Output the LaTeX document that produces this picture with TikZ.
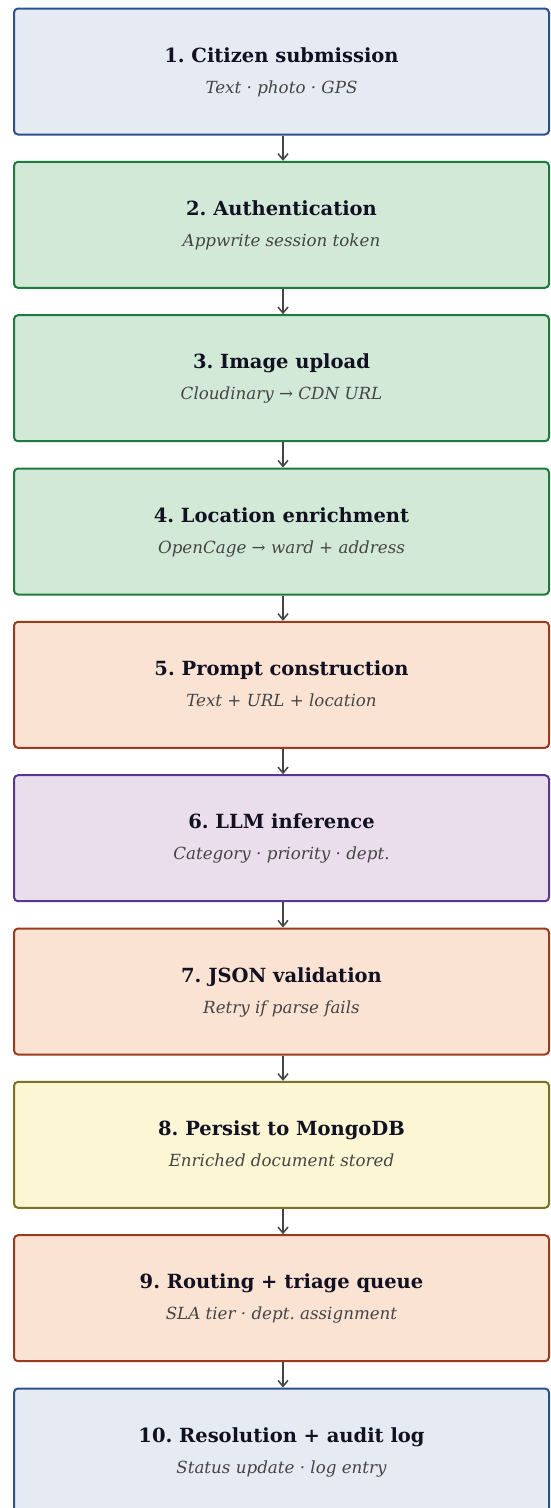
\documentclass[tikz,border=0pt]{standalone}
\usepackage{fontspec}
\setmainfont{DejaVu Serif}
\usetikzlibrary{arrows.meta}
\frenchspacing
\definecolor{bluefill}{HTML}{E6EBF3}\definecolor{blueline}{HTML}{2C5190}
\definecolor{greenfill}{HTML}{D3E9D8}\definecolor{greenline}{HTML}{1F7A3D}
\definecolor{orangefill}{HTML}{FBE3D4}\definecolor{orangeline}{HTML}{9B3A1C}
\definecolor{purplefill}{HTML}{EADEEC}\definecolor{purpleline}{HTML}{5B3592}
\definecolor{yellowfill}{HTML}{FCF6D4}\definecolor{yellowline}{HTML}{7D7124}
\definecolor{titlecol}{HTML}{111122}\definecolor{subcol}{HTML}{444444}
\definecolor{arrowcol}{HTML}{444444}
\tikzset{
  stagebox/.style={rectangle, rounded corners=4pt, line width=2pt, minimum width=535pt, minimum height=126pt, inner sep=0pt},
  bluebox/.style={stagebox, fill=bluefill, draw=blueline},
  greenbox/.style={stagebox, fill=greenfill, draw=greenline},
  orangebox/.style={stagebox, fill=orangefill, draw=orangeline},
  purplebox/.style={stagebox, fill=purplefill, draw=purpleline},
  yellowbox/.style={stagebox, fill=yellowfill, draw=yellowline},
  titletext/.style={font=\bfseries\fontsize{19.5}{23}\selectfont, text=titlecol, inner sep=0pt, anchor=base},
  subtext/.style={font=\itshape\fontsize{16.7}{20}\selectfont, text=subcol, inner sep=0pt, anchor=base},
  flow/.style={draw=arrowcol, line width=1.5pt, -{Straight Barb[length=6pt,width=10pt,line width=1.5pt]}}
}
\begin{document}
\begin{tikzpicture}[x=1pt,y=-1pt]
\useasboundingbox (0,0) rectangle (550,1508);
\node[bluebox]   (b1)  at (281.5, 71.5) {};
\node[greenbox]  (b2)  at (281.5, 224.8) {};
\node[greenbox]  (b3)  at (281.5, 378.2) {};
\node[greenbox]  (b4)  at (281.5, 531.5) {};
\node[orangebox] (b5)  at (281.5, 684.8) {};
\node[purplebox] (b6)  at (281.5, 838.2) {};
\node[orangebox] (b7)  at (281.5, 991.5) {};
\node[yellowbox] (b8)  at (281.5, 1144.8) {};
\node[orangebox] (b9)  at (281.5, 1298.2) {};
\node[bluebox]   (b10) at (281.5, 1451.5) {};
\foreach \i/\t/\s in {
  1/{1. Citizen submission}/{Text · photo · GPS},
  2/{2. Authentication}/{Appwrite session token},
  3/{3. Image upload}/{Cloudinary → CDN URL},
  4/{4. Location enrichment}/{OpenCage → ward + address},
  5/{5. Prompt construction}/{Text + URL + location},
  6/{6. LLM inference}/{Category · priority · dept.},
  7/{7. JSON validation}/{Retry if parse fails},
  8/{8. Persist to MongoDB}/{Enriched document stored},
  9/{9. Routing + triage queue}/{SLA tier · dept. assignment},
  10/{10. Resolution + audit log}/{Status update · log entry}}{
  \node[titletext] (t\i) at ([yshift=9.5pt]b\i.center) {\t};
  \node[subtext] (s\i) at ([yshift=-21.5pt]b\i.center) {\s};
}
\foreach \a/\b in {1/2,2/3,3/4,4/5,5/6,6/7,7/8,8/9,9/10}{
  \draw[flow] ([xshift=1.5pt]b\a.south) -- ([xshift=1.5pt]b\b.north);
}
\end{tikzpicture}
\end{document}
